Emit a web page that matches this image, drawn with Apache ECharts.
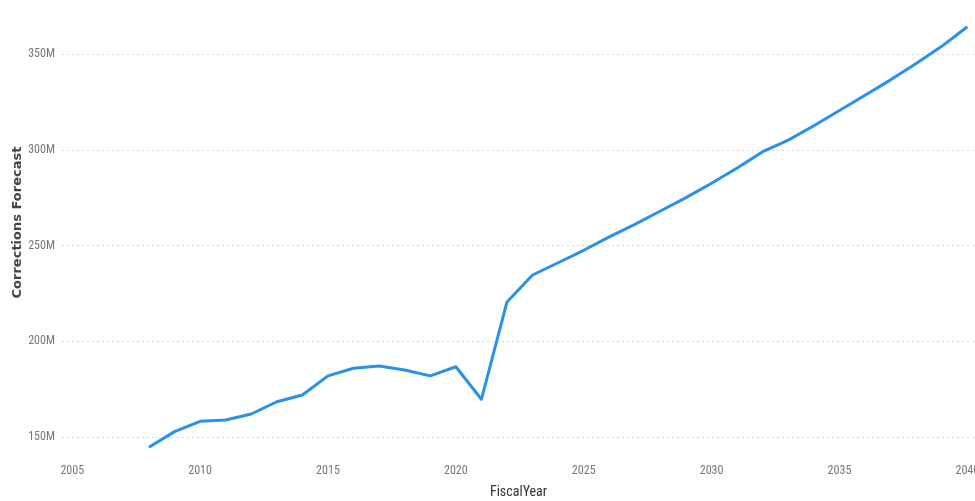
<!DOCTYPE html>
<html><head><meta charset="utf-8">
<script src="https://cdn.jsdelivr.net/npm/echarts@6/dist/echarts.min.js"></script>
<style>html,body{margin:0;padding:0;background:#fff}#c{width:975px;height:501px}</style>
</head><body><div id="c"></div>
<script>
const years = [2008,2009,2010,2011,2012,2013,2014,2015,2016,2017,2018,2019,2020,2021,2022,2023,2024,2025,2026,2027,2028,2029,2030,2031,2032,2033,2034,2035,2036,2037,2038,2039,2040];
const forecastM = [144.6,152.8,158.2,158.9,162,168.4,171.9,181.9,185.9,187.1,185,181.9,186.7,169.7,220.5,234.6,241,247.5,254.5,261,268,275,282.5,290.5,299,305,312.5,320.5,328.5,336.5,345,354,364.2];
const xTickLabels = [2005,2010,2015,2020,2025,2030,2035,2040];
const yTicks = [150,200,250,300,350];

const narrow = '"Liberation Sans Narrow", "Roboto Condensed", "DejaVu Sans Condensed", sans-serif';
const chart = echarts.init(document.getElementById('c'));
chart.setOption({
  animation: false,
  grid: {left: 62, right: 0, top: 54, bottom: 64, containLabel: false, outerBoundsMode: 'none'},
  xAxis: {
    type: 'value', min: 2004.6, max: 2040.3,
    name: 'FiscalYear', nameLocation: 'middle', nameGap: 48, nameMoveOverlap: false,
    nameTextStyle: {color: '#333', fontSize: 14, fontFamily: narrow},
    axisLine: {show: false}, axisTick: {show: false}, splitLine: {show: false},
    axisLabel: {customValues: xTickLabels, color: '#777', fontSize: 12, fontFamily: narrow, margin: 28,
      hideOverlap: false, formatter: v => String(v)}
  },
  yAxis: {
    type: 'value', min: yTicks[0], max: yTicks[yTicks.length-1], interval: 50,
    name: 'Corrections Forecast', nameLocation: 'middle', nameGap: 38, nameMoveOverlap: false,
    nameTextStyle: {color: '#444', fontSize: 13, fontWeight: 'bold', fontFamily: '"DejaVu Sans", sans-serif', padding: [0,0,0,46]},
    axisLine: {show: false}, axisTick: {show: false},
    splitLine: {lineStyle: {color: '#d8d8d8', type: [2,3], width: 1}},
    axisLabel: {color: '#777', fontSize: 12, fontFamily: narrow, margin: 7, formatter: v => v + 'M'}
  },
  series: [{
    type: 'line', clip: false, showSymbol: false,
    data: years.map((y,i) => [y, forecastM[i]]),
    lineStyle: {color: '#2a90ea', width: 3, join: 'round'},
    itemStyle: {color: '#2a90ea'}
  }]
});
</script></body></html>
